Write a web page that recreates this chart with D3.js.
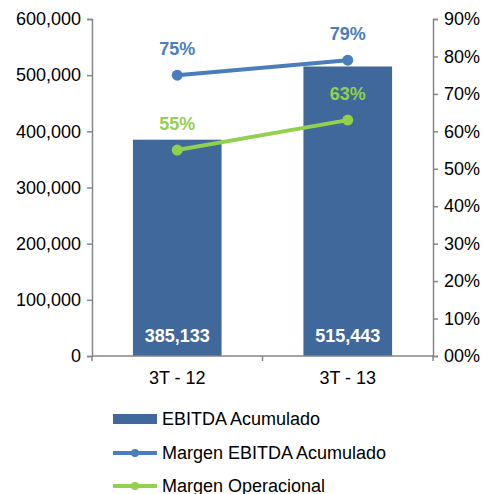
<!DOCTYPE html>
<html>
<head>
<meta charset="utf-8">
<script src="https://cdn.jsdelivr.net/npm/d3@7"></script>
<style>
  html, body { margin: 0; padding: 0; background: #fff; }
  svg { display: block; font-family: "Liberation Sans", Arial, sans-serif; }
</style>
</head>
<body>
<svg id="chart" width="487" height="494"></svg>
<script>
  // ---- data ----
  const categories = ["3T - 12", "3T - 13"];
  const ebitda = [385133, 515443];
  const margenEbitda = [0.75, 0.79];
  const margenOper = [0.55, 0.63];
  const leftTicks = [0, 100000, 200000, 300000, 400000, 500000, 600000];
  const rightTicks = [0, 0.1, 0.2, 0.3, 0.4, 0.5, 0.6, 0.7, 0.8, 0.9];
  const legendLabels = ["EBITDA Acumulado", "Margen EBITDA Acumulado", "Margen Operacional"];

  const BAR = "#41689b", BLUE = "#4a7ebb", GREEN = "#92d050", AXIS = "#868686";

  const svg = d3.select("#chart");
  const pL = 92, pR = 433, pT = 19, pB = 356;

  const x = d3.scaleBand().domain(categories).range([pL, pR]).paddingInner(0.48).paddingOuter(0.24);
  const yL = d3.scaleLinear().domain([0, 600000]).range([pB, pT]);
  const yR = d3.scaleLinear().domain([0, 0.9]).range([pB, pT]);
  const cx = (c) => x(c) + x.bandwidth() / 2;

  // bars
  svg.append("g").selectAll("rect").data(categories).join("rect")
    .attr("x", d => x(d)).attr("width", x.bandwidth())
    .attr("y", (d, i) => yL(ebitda[i]))
    .attr("height", (d, i) => pB - yL(ebitda[i]))
    .attr("fill", BAR);

  svg.append("g").selectAll("text").data(categories).join("text")
    .attr("x", cx).attr("y", 342)
    .attr("text-anchor", "middle").attr("font-size", 18).attr("font-weight", "bold")
    .attr("fill", "#fff")
    .text((d, i) => d3.format(",")(ebitda[i]));

  // axes
  const fmtL = d3.format(",");
  const axL = svg.append("g").attr("transform", `translate(${pL},0)`)
    .call(d3.axisLeft(yL).tickValues(leftTicks).tickFormat(fmtL).tickSize(5).tickPadding(6));
  const axR = svg.append("g").attr("transform", `translate(${pR},0)`)
    .call(d3.axisRight(yR).tickValues(rightTicks).tickFormat(v => (v === 0 ? "00" : Math.round(v * 100)) + "%").tickSize(5).tickPadding(6));
  [axL, axR].forEach(a => {
    a.select(".domain").attr("stroke", AXIS).attr("stroke-width", 1.5);
    a.selectAll(".tick line").attr("stroke", AXIS).attr("stroke-width", 1.5);
    a.selectAll(".tick text").attr("font-size", 18).attr("fill", "#000")
      .attr("font-family", "Liberation Sans, Arial, sans-serif");
  });

  // bottom axis line with tick marks at band edges
  const gx = svg.append("g");
  gx.append("line").attr("x1", pL).attr("x2", pR).attr("y1", pB).attr("y2", pB)
    .attr("stroke", AXIS).attr("stroke-width", 1.5);
  const edges = [pL, (pL + pR) / 2, pR];
  gx.selectAll("line.tk").data(edges).join("line").attr("class", "tk")
    .attr("x1", d => d).attr("x2", d => d).attr("y1", pB).attr("y2", pB + 5)
    .attr("stroke", AXIS).attr("stroke-width", 1.5);
  gx.selectAll("text").data(categories).join("text")
    .attr("x", cx).attr("y", 384).attr("text-anchor", "middle")
    .attr("font-size", 18).attr("fill", "#000").text(d => d);

  // lines
  const series = [
    { vals: margenEbitda, color: BLUE },
    { vals: margenOper, color: GREEN }
  ];
  series.forEach(s => {
    const pts = categories.map((c, i) => [cx(c), yR(s.vals[i])]);
    svg.append("path").attr("d", d3.line()(pts))
      .attr("fill", "none").attr("stroke", s.color).attr("stroke-width", 4);
    svg.append("g").selectAll("circle").data(pts).join("circle")
      .attr("cx", d => d[0]).attr("cy", d => d[1]).attr("r", 5.5).attr("fill", s.color);
    svg.append("g").selectAll("text").data(pts).join("text")
      .attr("x", d => d[0]).attr("y", d => d[1] - 20)
      .attr("text-anchor", "middle").attr("font-size", 18).attr("font-weight", "bold")
      .attr("fill", s.color)
      .text((d, i) => Math.round(s.vals[i] * 100) + "%");
  });

  // legend
  const lg = svg.append("g");
  const ly = [419, 453, 486];
  lg.append("rect").attr("x", 113).attr("y", ly[0] - 5).attr("width", 44).attr("height", 10).attr("fill", BAR);
  [BLUE, GREEN].forEach((c, i) => {
    lg.append("line").attr("x1", 113).attr("x2", 157).attr("y1", ly[i + 1]).attr("y2", ly[i + 1])
      .attr("stroke", c).attr("stroke-width", 4);
    lg.append("circle").attr("cx", 135).attr("cy", ly[i + 1]).attr("r", 4).attr("fill", c);
  });
  lg.selectAll("text").data(legendLabels).join("text")
    .attr("x", 162).attr("y", (d, i) => ly[i]).attr("dy", "0.35em")
    .attr("font-size", 18).attr("fill", "#000").text(d => d);
</script>
</body>
</html>
